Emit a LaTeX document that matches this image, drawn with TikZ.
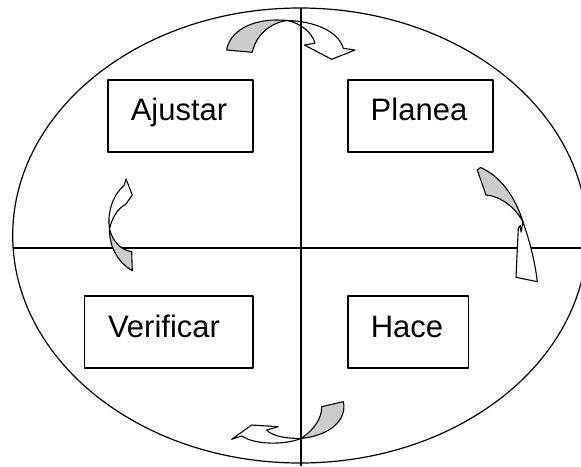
\documentclass[tikz,border=0pt]{standalone}
\usepackage{fontspec}
\setmainfont{Liberation Sans}
\definecolor{backgray}{HTML}{CCCCCC}
\begin{document}
\begin{tikzpicture}[x=1pt,y=-1pt,line join=round,
  boxnode/.style={draw,line width=1.3pt,inner sep=0pt,minimum height=72pt},
  txt/.style={anchor=base,inner sep=0pt,font=\fontsize{31}{36}\selectfont},
  rule/.style={line width=1.2pt},
  backface/.style={draw,line width=1.1pt,fill=backgray},
  frontface/.style={draw,line width=1.1pt,fill=white}]
\useasboundingbox (0,0) rectangle (581,466);
\clip (0,0) rectangle (581,466);
% ellipse
\draw[rule] (300,235.5) ellipse [x radius=287.3, y radius=227.5];
% horizontal line
\coordinate (hl) at (13.1,248);
\coordinate (hr) at (581,248);
\draw[rule] (hl) -- (hr);
% boxes
\node[boxnode,minimum width=145pt] (bA) at (180.5,116) {};
\node[boxnode,minimum width=145pt] (bP) at (420.5,116) {};
\node[boxnode,minimum width=168.5pt] (bV) at (168.75,332) {};
\node[boxnode,minimum width=120.5pt] (bH) at (408.25,332) {};
\node[txt] (tA) at (179,120) {Ajustar};
\node[txt] (tP) at (419,120) {Planea};
\node[txt] (tV) at (164,337) {Verificar};
\node[txt] (tH) at (407,337) {Hace};
% right arrow (Planea -> Hace)
\path[frontface] (523,222) .. controls (530,242) and (535,262) .. (537.3,281.7)
  -- (516,277.3) -- (518.3,228.3) -- (520.3,225.5) -- (521,232) -- cycle;
\path[backface] (477.3,170) -- (480.5,167.5) .. controls (500,176) and (515,196) .. (523,222)
  .. controls (515,207) and (500,196) .. (486,195) -- cycle;
% left arrow (Verificar -> Ajustar)
\path[frontface] (109.5,229) .. controls (107,212) and (113,195) .. (124.3,185)
  -- (126,179) -- (132.3,195) -- (125.7,204.3)
  .. controls (117,209) and (112,218) .. (109.5,229) -- cycle;
\path[backface] (109.5,229) .. controls (109,245) and (117,262) .. (132.3,270.7)
  -- (131.7,251.7) .. controls (121,250) and (113,242) .. (109.5,229) -- cycle;
% bottom arrow (Hace -> Verificar)
\path[frontface] (301,438.5) .. controls (285,438.5) and (272,436) .. (266.7,430)
  -- (278.3,426.7) -- (251.7,425) -- (231.7,439.3) -- (241.7,436)
  .. controls (255,445) and (285,445) .. (301,438.5) -- cycle;
\path[backface] (321.7,406.7) -- (343.3,401.7) .. controls (347,418) and (333,435) .. (301,438.5)
  .. controls (314,430) and (322,418) .. (321.7,406.7) -- cycle;
% top arrow (Ajustar -> Planea)
\path[frontface] (287,20.5) .. controls (312,21) and (338,30) .. (343.3,48.3)
  -- (355,50) -- (331.7,59.3) -- (304.3,45) -- (315,43.3)
  .. controls (312,32) and (300,23) .. (287,20.5) -- cycle;
\path[backface] (226.7,50) .. controls (229,33) and (250,17) .. (287,20.5)
  .. controls (270,23) and (256,35) .. (252.3,52.3) -- cycle;
% vertical line
\coordinate (vt) at (301,8);
\coordinate (vb) at (301,466);
\draw[rule] (vt) -- (vb);
\end{tikzpicture}
\end{document}
